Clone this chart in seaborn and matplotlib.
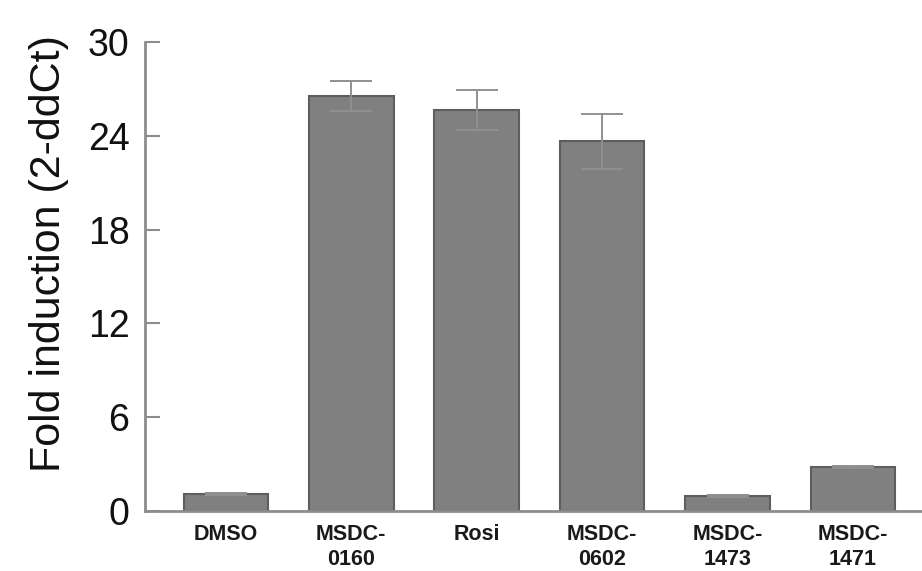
import numpy as np
import pandas as pd
import matplotlib
matplotlib.use("Agg")
import matplotlib.pyplot as plt
import seaborn as sns

# ---------------------------------------------------------------------------
# Data
# ---------------------------------------------------------------------------
compounds = ["DMSO", "MSDC-\n0160", "Rosi", "MSDC-\n0602", "MSDC-\n1473", "MSDC-\n1471"]
fold_induction = [1.1, 26.55, 25.65, 23.65, 0.95, 2.8]
fold_err = [0.05, 0.95, 1.3, 1.75, 0.05, 0.05]
y_ticks = [0, 6, 12, 18, 24, 30]

BAR_COLOR = "#808080"
EDGE_COLOR = "#5e5e5e"
AXIS_COLOR = "#8c8c8c"

sns.set_theme(style="white")
plt.rcParams["font.family"] = ["Liberation Sans", "DejaVu Sans"]

df = pd.DataFrame({"compound": compounds, "fold": fold_induction, "err": fold_err})

fig = plt.figure(figsize=(9.22, 5.71), dpi=100)
ax = fig.add_axes([0.157, 0.1050, 0.843, 0.8214])

sns.barplot(data=df, x="compound", y="fold", order=compounds, color=BAR_COLOR,
            saturation=1, width=0.674, edgecolor=EDGE_COLOR, linewidth=1.5,
            errorbar=None, ax=ax)

ax.errorbar(np.arange(len(compounds)), df["fold"], yerr=df["err"], fmt="none",
            ecolor="#909090", elinewidth=1.4, capsize=15, capthick=1.4, zorder=3)

ax.set_xlim(-0.646, 5.55)
ax.set_ylim(0, 30)
ax.set_yticks(y_ticks)
ax.set_yticklabels([str(t) for t in y_ticks], fontsize=27, color="#111111")
ax.tick_params(axis="y", direction="in", length=11, width=1.5,
               color=AXIS_COLOR, pad=11, left=True)
ax.tick_params(axis="x", length=0, pad=9)

for lbl in ax.get_xticklabels():
    lbl.set_fontweight("bold")
    lbl.set_fontsize(15.5)
    lbl.set_linespacing(1.25)
    lbl.set_verticalalignment("top")
    lbl.set_color("#1a1a1a")

ax.set_xlabel("")
ax.set_ylabel("Fold induction (2-ddCt)", fontsize=31, color="#111111")
ax.yaxis.set_label_coords(-0.097, 0.548)

for side in ["top", "right"]:
    ax.spines[side].set_visible(False)
for side in ["left", "bottom"]:
    ax.spines[side].set_color(AXIS_COLOR)
    ax.spines[side].set_linewidth(2)

fig.savefig("out.png", dpi=100)
